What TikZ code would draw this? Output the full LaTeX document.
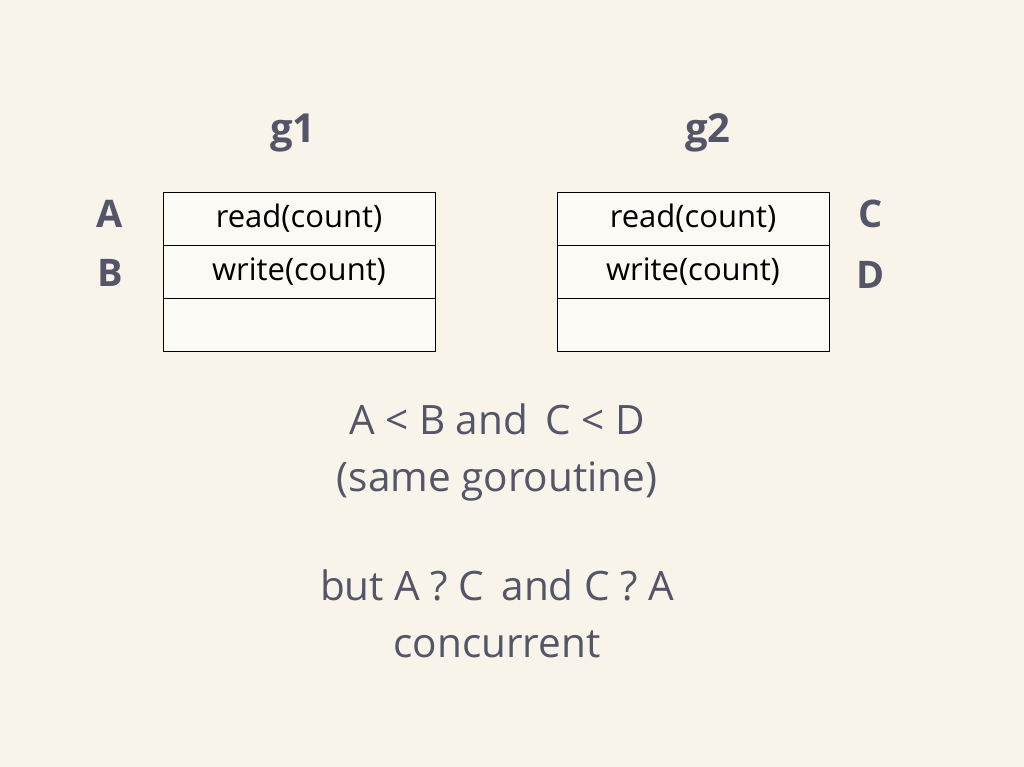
\documentclass[tikz,border=0pt]{standalone}
\usepackage{fontspec}
\setmainfont{Open Sans}
\definecolor{paper}{RGB}{248,244,233}
\definecolor{cellfill}{RGB}{251,250,245}
\definecolor{ink}{RGB}{84,85,104}
\begin{document}
\begin{tikzpicture}[
    x=1pt, y=-1pt,
    cell/.style={draw=black, line width=0.8pt, fill=cellfill, minimum width=272pt, minimum height=53pt, inner sep=0pt, font=\fontsize{31}{34}\selectfont},
    title/.style={text=ink, font=\fontsize{40}{44}\selectfont\bfseries},
    letter/.style={text=ink, font=\fontsize{38}{42}\selectfont\bfseries},
    note/.style={text=ink, font=\fontsize{40.5}{57}\selectfont, align=center}
  ]

  % background sheet
  \fill[paper] (0,0) rectangle (1024,767);
  \useasboundingbox (0,0) rectangle (1024,767);

  % goroutine titles
  \node[title] (g1) at (293,133) {g1};
  \node[title] (g2) at (708,133) {g2};

  % stack of g1
  \node[cell] (g1read) at (299,218.5) {read(count)};
  \node[cell] (g1write) at (299,271.5) {write(count)};
  \node[cell] (g1empty) at (299,324.5) {};

  % stack of g2
  \node[cell] (g2read) at (693,218.5) {read(count)};
  \node[cell] (g2write) at (693,271.5) {write(count)};
  \node[cell] (g2empty) at (693,324.5) {};

  % event letters beside the stacks
  \node[letter] (A) at (110,214) {A};
  \node[letter] (B) at (110,273) {B};
  \node[letter] (C) at (871,214) {C};
  \node[letter] (D) at (871,275) {D};

  % explanation below
  \node[note] (order) at (497,452) {A < B and\, C < D\\(same goroutine)};
  \node[note] (conc) at (497,614) {but A ? C\, and C ? A\\concurrent};

\end{tikzpicture}
\end{document}
